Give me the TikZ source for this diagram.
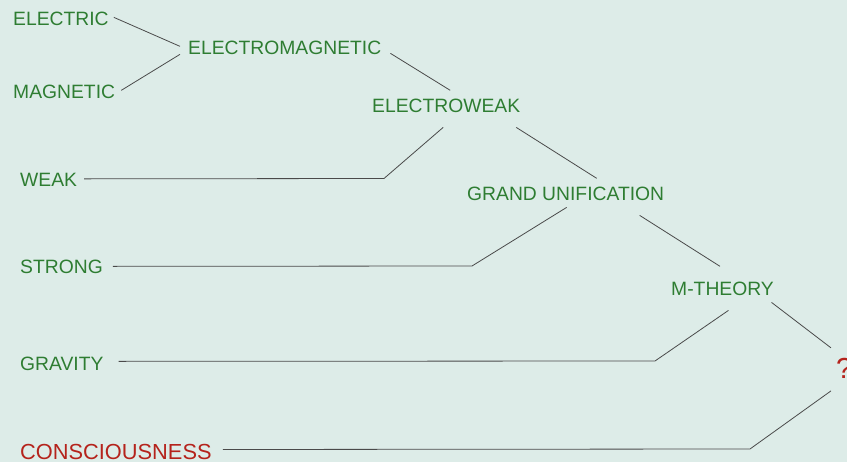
\documentclass[tikz,border=0pt]{standalone}
\usepackage{fontspec}
\setmainfont{Liberation Sans}
\definecolor{bgcol}{HTML}{DDECE8}
\definecolor{forcegreen}{HTML}{2E7D32}
\definecolor{mindred}{HTML}{B5231C}
\definecolor{linecol}{HTML}{4A4A4A}
\begin{document}
\begin{tikzpicture}[
    x=1pt, y=-1pt,
    labelnode/.style={inner sep=0pt, anchor=base west, text=forcegreen, font=\fontsize{19.3}{22}\selectfont},
    rednode/.style={inner sep=0pt, anchor=base west, text=mindred},
    link/.style={draw=linecol, line width=0.8pt}
]
\path[use as bounding box, fill=bgcol] (0, 0) rectangle (847, 462);

\node[labelnode](el) at (13, 26) {ELECTRIC};
\node[labelnode](mag) at (13, 99) {MAGNETIC};
\node[labelnode](em) at (188, 55) {ELECTROMAGNETIC};
\node[labelnode](ew) at (372, 113) {ELECTROWEAK};
\node[labelnode](weak) at (20, 187) {WEAK};
\node[labelnode](gu) at (467, 201) {GRAND UNIFICATION};
\node[labelnode](strong) at (20, 274) {STRONG};
\node[labelnode](mt) at (671, 296) {M-THEORY};
\node[labelnode](grav) at (20, 371) {GRAVITY};
\node[rednode, font=\fontsize{29}{32}\selectfont](q) at (836, 379) {?};
\node[rednode, font=\fontsize{21.8}{25}\selectfont](cons) at (20, 460) {CONSCIOUSNESS};

\coordinate(b1) at (384, 178.5);
\coordinate(b2) at (472, 266);
\coordinate(b3) at (655, 361);
\coordinate(b4) at (750, 449);

\draw[link] ([shift={(5,-2)}]el.east) -- ([shift={(-8,-2)}]em.west);
\draw[link] ([shift={(6,-2)}]mag.east) -- ([shift={(-8,6)}]em.west);
\draw[link] ([shift={(9,5)}]em.east) -- ([shift={(4,-9)}]ew.north);
\draw[link] ([shift={(7,-1.5)}]weak.east) -- (b1) -- ([shift={(-3,14)}]ew.south);
\draw[link] ([shift={(70,14)}]ew.south) -- ([shift={(31,-9)}]gu.north);
\draw[link] ([shift={(10,-1)}]strong.east) -- (b2) -- ([shift={(1,6)}]gu.south);
\draw[link] ([shift={(74,14)}]gu.south) -- ([shift={(-2.5,-16)}]mt.north);
\draw[link] ([shift={(15,-3)}]grav.east) -- (b3) -- ([shift={(6,14)}]mt.south);
\draw[link] ([shift={(49,6)}]mt.south) -- ([shift={(-5,-21)}]q.west);
\draw[link] ([shift={(11,-3)}]cons.east) -- (b4) -- ([shift={(-5,22)}]q.west);
\end{tikzpicture}
\end{document}
